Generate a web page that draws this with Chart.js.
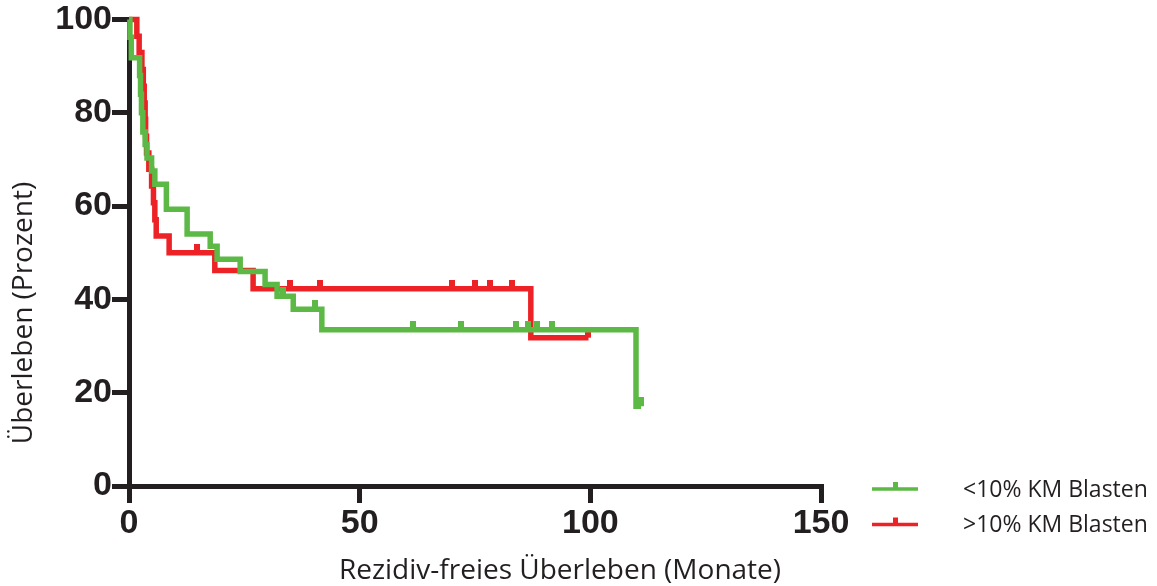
<!DOCTYPE html>
<html>
<head>
<meta charset="utf-8">
<script src="https://cdn.jsdelivr.net/npm/chart.js@4/dist/chart.umd.min.js"></script>
<style>
  html, body { margin: 0; padding: 0; background: #ffffff; }
  #wrap { width: 1157px; height: 586px; position: relative; }
  #km { display: block; }
</style>
</head>
<body>
<div id="wrap"><canvas id="km" width="1157" height="586"></canvas></div>
<script>
// Kaplan-Meier estimates: event times (months) and survival (%) after each step
const seriesLabels = ['<10% KM Blasten', '>10% KM Blasten'];

const lowTimes = [0, 0.2, 0.5, 2.3, 2.5, 2.7, 3.0, 3.5, 3.9, 4.9, 5.6, 8.1, 12.6, 17.6, 19.1, 24.1, 29.5, 32.1, 35.6, 41.8, 109.9, 111.0];
const lowSurv  = [100, 96.2, 91.8, 88.0, 84.0, 80.0, 75.9, 73.2, 70.3, 67.5, 64.7, 59.3, 54.0, 51.4, 48.6, 46.0, 43.2, 40.7, 37.9, 33.5, 17.1, 17.1];
const lowCensored = [33.4, 40.4, 61.5, 72.0, 83.8, 86.4, 88.5, 91.7, 111.0];

const highTimes = [0, 1.7, 2.2, 2.8, 3.1, 3.3, 3.5, 3.6, 3.8, 4.3, 4.9, 5.3, 5.6, 5.9, 8.7, 18.6, 26.9, 87.1, 99.6];
const highSurv  = [100, 96.4, 92.9, 89.3, 85.7, 82.1, 78.6, 75.0, 71.4, 67.9, 64.3, 60.7, 57.1, 53.6, 50.0, 46.2, 42.3, 31.8, 31.8];
const highCensored = [14.7, 35.0, 41.4, 70.0, 74.9, 78.3, 83.1, 99.6];

const xTicks = [0, 50, 100, 150];
const yTicks = [0, 20, 40, 60, 80, 100];

const xTitle = 'Rezidiv-freies Überleben (Monate)';
const yTitle = 'Überleben (Prozent)';

const GREEN = '#5cb946';
const RED = '#ed2226';
const INK = '#231f20';

function toPoints(times, surv) {
  return times.map((t, i) => ({ x: t, y: surv[i] }));
}

// survival level in effect at time t (for placing censoring marks on the curve)
function levelAt(times, surv, t) {
  let v = surv[0];
  for (let i = 0; i < times.length; i++) {
    if (times[i] <= t) v = surv[i];
  }
  return v;
}

function censorPoints(times, surv, cens) {
  return cens.map(t => ({ x: t, y: levelAt(times, surv, t) }));
}

// small upward tick used as the censoring marker
function tickMark(color) {
  const c = document.createElement('canvas');
  c.width = 6;
  c.height = 18;
  const g = c.getContext('2d');
  g.fillStyle = color;
  g.fillRect(0, 0, 6, 9);
  return c;
}

const overlay = {
  id: 'overlay',
  afterDraw(chart) {
    const ctx = chart.ctx;
    ctx.save();
    ctx.fillStyle = INK;
    ctx.font = '400 28px "Open Sans"';
    ctx.textAlign = 'center';
    ctx.textBaseline = 'alphabetic';
    ctx.fillText(xTitle, 560, 579);

    ctx.save();
    ctx.translate(24, 313);
    ctx.rotate(-Math.PI / 2);
    ctx.textBaseline = 'middle';
    ctx.fillText(yTitle, 0, 0);
    ctx.restore();

    // legend
    const rows = [
      { label: seriesLabels[0], color: GREEN, y: 489 },
      { label: seriesLabels[1], color: RED, y: 524.5 }
    ];
    ctx.font = '400 23px "Open Sans"';
    ctx.textAlign = 'left';
    ctx.textBaseline = 'middle';
    rows.forEach(r => {
      ctx.fillStyle = r.color;
      ctx.fillRect(872, r.y - 1.75, 46, 3.5);
      ctx.fillRect(893, r.y - 7, 5, 7);
      ctx.fillStyle = INK;
      ctx.fillText(r.label, 963, r.y + 1);
    });
    ctx.restore();
  }
};

const tickFont = { family: '"Liberation Sans", Arial, sans-serif', size: 34, weight: 'bold', lineHeight: 1 };

new Chart(document.getElementById('km'), {
  type: 'line',
  data: {
    datasets: [
      {
        label: seriesLabels[0] + ' zensiert',
        data: censorPoints(lowTimes, lowSurv, lowCensored),
        showLine: false,
        pointStyle: tickMark(GREEN),
        pointRadius: 4,
        clip: false
      },
      {
        label: seriesLabels[0],
        data: toPoints(lowTimes, lowSurv),
        borderColor: GREEN,
        borderWidth: 5.5,
        stepped: true,
        pointRadius: 0,
        fill: false,
        clip: false,
        borderCapStyle: 'butt',
        borderJoinStyle: 'miter'
      },
      {
        label: seriesLabels[1] + ' zensiert',
        data: censorPoints(highTimes, highSurv, highCensored),
        showLine: false,
        pointStyle: tickMark(RED),
        pointRadius: 4,
        clip: false
      },
      {
        label: seriesLabels[1],
        data: toPoints(highTimes, highSurv),
        borderColor: RED,
        borderWidth: 5.5,
        stepped: true,
        pointRadius: 0,
        fill: false,
        clip: false,
        borderCapStyle: 'butt',
        borderJoinStyle: 'miter'
      }
    ]
  },
  options: {
    responsive: false,
    animation: false,
    devicePixelRatio: 1,
    layout: { padding: { top: 19.5, right: 336, left: 0, bottom: 0 } },
    plugins: { legend: { display: false }, tooltip: { enabled: false } },
    scales: {
      x: {
        type: 'linear',
        min: xTicks[0],
        max: xTicks[xTicks.length - 1],
        afterBuildTicks: s => { s.ticks = xTicks.map(v => ({ value: v })); },
        afterFit: s => { s.height = 100; },
        border: { display: true, width: 5, color: INK },
        grid: { drawOnChartArea: false, drawTicks: true, tickLength: 17, tickWidth: 5, lineWidth: 5, color: INK, tickColor: INK },
        ticks: { color: INK, font: tickFont, padding: 4, maxRotation: 0, autoSkip: false }
      },
      y: {
        type: 'linear',
        min: yTicks[0],
        max: yTicks[yTicks.length - 1],
        afterBuildTicks: s => { s.ticks = yTicks.map(v => ({ value: v })); },
        afterFit: s => { s.width = 129; },
        border: { display: true, width: 5, color: INK },
        grid: { drawOnChartArea: false, drawTicks: true, tickLength: 17, tickWidth: 5, lineWidth: 5, color: INK, tickColor: INK },
        ticks: { color: INK, font: tickFont, padding: 0, autoSkip: false }
      }
    }
  },
  plugins: [overlay]
});
</script>
</body>
</html>
